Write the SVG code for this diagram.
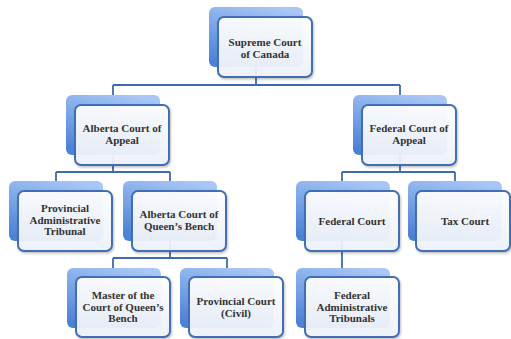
<svg xmlns="http://www.w3.org/2000/svg" width="511" height="339" viewBox="0 0 511 339">
<defs>
<linearGradient id="bk" x1="0.7" y1="0" x2="0.3" y2="1">
<stop offset="0" stop-color="#a8c6f6"/>
<stop offset="1" stop-color="#4c82d6"/>
</linearGradient>
<linearGradient id="fr" x1="0" y1="0" x2="0" y2="1">
<stop offset="0" stop-color="#ffffff"/>
<stop offset="1" stop-color="#eef2fa"/>
</linearGradient>
<filter id="sh" x="-10%" y="-10%" width="130%" height="130%">
<feDropShadow dx="1" dy="1.5" stdDeviation="1.2" flood-color="#000" flood-opacity="0.25"/>
</filter>
</defs>
<style>
.bk{fill:url(#bk);}
.fr{fill:url(#fr);fill-opacity:0.93;stroke:#3f6fb3;stroke-width:2;}
.c{fill:none;stroke:#3d6bad;stroke-width:1.8;}
text{font-family:"Liberation Serif","Times New Roman",serif;font-size:11px;font-weight:bold;fill:#333;text-anchor:middle;}
</style>
<rect width="511" height="339" fill="#fff"/>
<g id="connectors">
<path class="c" d="M256,37V85M113,85H400M113,85V95M400,85V95"/>
<path class="c" d="M113,125V172M56,172H170M56,172V181M170,172V181"/>
<path class="c" d="M400,125V172M342,172H455M342,172V181M455,172V181"/>
<path class="c" d="M170,211V258M113,258H227M113,258V268M227,258V268"/>
<path class="c" d="M342,211V268"/>
</g>
<g id="supreme">
<rect class="bk" x="209" y="7" width="94" height="60" rx="6"/>
<rect class="fr" x="218" y="17" width="94" height="60" rx="6" filter="url(#sh)"/>
<text x="265" y="46">Supreme Court</text>
<text x="265" y="57.5">of Canada</text>
</g>
<g id="alberta-appeal">
<rect class="bk" x="66" y="95" width="94" height="60" rx="6"/>
<rect class="fr" x="75" y="105" width="94" height="60" rx="6" filter="url(#sh)"/>
<text x="122" y="132">Alberta Court of</text>
<text x="122" y="143.5">Appeal</text>
</g>
<g id="federal-appeal">
<rect class="bk" x="353" y="95" width="94" height="60" rx="6"/>
<rect class="fr" x="362" y="105" width="94" height="60" rx="6" filter="url(#sh)"/>
<text x="409" y="132">Federal Court of</text>
<text x="409" y="143.5">Appeal</text>
</g>
<g id="prov-admin">
<rect class="bk" x="9" y="181" width="94" height="60" rx="6"/>
<rect class="fr" x="18" y="191" width="94" height="60" rx="6" filter="url(#sh)"/>
<text x="65" y="212">Provincial</text>
<text x="65" y="223.5">Administrative</text>
<text x="65" y="235">Tribunal</text>
</g>
<g id="queens-bench">
<rect class="bk" x="123" y="181" width="94" height="60" rx="6"/>
<rect class="fr" x="132" y="191" width="94" height="60" rx="6" filter="url(#sh)"/>
<text x="179" y="218">Alberta Court of</text>
<text x="179" y="229.5">Queen’s Bench</text>
</g>
<g id="federal-court">
<rect class="bk" x="296" y="181" width="94" height="60" rx="6"/>
<rect class="fr" x="305" y="191" width="94" height="60" rx="6" filter="url(#sh)"/>
<text x="352" y="224.5">Federal Court</text>
</g>
<g id="tax-court">
<rect class="bk" x="408" y="181" width="94" height="60" rx="6"/>
<rect class="fr" x="416" y="191" width="94" height="60" rx="6" filter="url(#sh)"/>
<text x="465" y="224.5">Tax Court</text>
</g>
<g id="master">
<rect class="bk" x="67" y="268" width="94" height="60" rx="6"/>
<rect class="fr" x="76" y="277" width="94" height="60" rx="6" filter="url(#sh)"/>
<text x="123" y="299">Master of the</text>
<text x="123" y="310.5">Court of Queen’s</text>
<text x="123" y="322">Bench</text>
</g>
<g id="provincial-court">
<rect class="bk" x="180" y="268" width="94" height="60" rx="6"/>
<rect class="fr" x="189" y="277" width="94" height="60" rx="6" filter="url(#sh)"/>
<text x="236" y="305">Provincial Court</text>
<text x="236" y="316.5">(Civil)</text>
</g>
<g id="fed-admin">
<rect class="bk" x="296" y="268" width="94" height="60" rx="6"/>
<rect class="fr" x="305" y="277" width="94" height="60" rx="6" filter="url(#sh)"/>
<text x="352" y="299">Federal</text>
<text x="352" y="310.5">Administrative</text>
<text x="352" y="322">Tribunals</text>
</g>
</svg>
